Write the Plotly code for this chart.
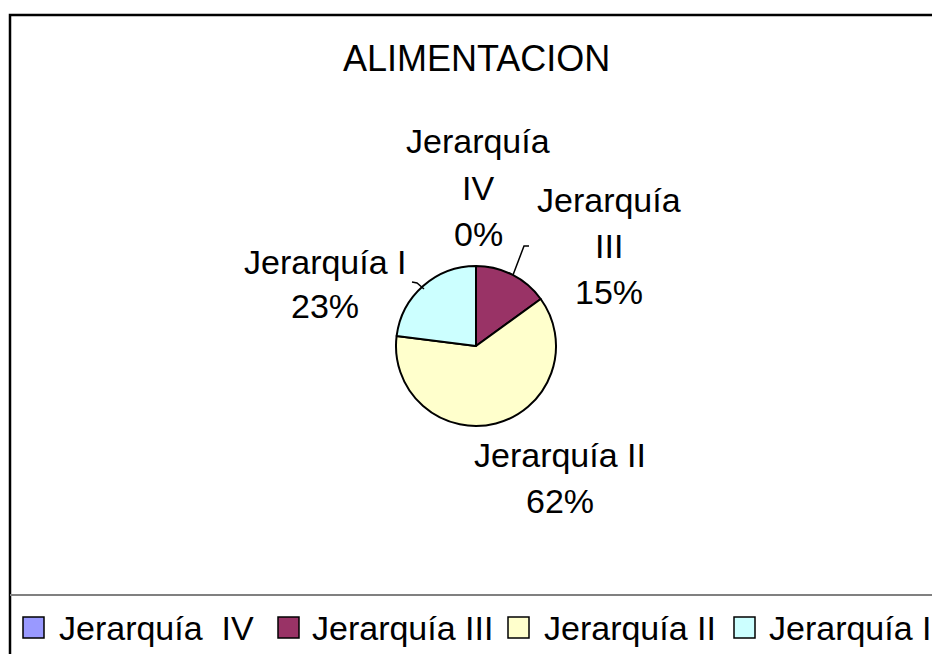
import plotly.graph_objects as go

# ---- data ----
labels = ["Jerarquía IV", "Jerarquía III", "Jerarquía II", "Jerarquía I"]
legend_labels = ["Jerarquía\u00a0 IV", "Jerarquía III", "Jerarquía II", "Jerarquía I"]
values = [0, 15, 62, 23]
pct_text = ["0%", "15%", "62%", "23%"]
colors = ["#9999FF", "#993366", "#FFFFCC", "#CCFFFF"]
title_text = "ALIMENTACION"

W, H = 932, 654
FONT = "Liberation Sans, Arial, sans-serif"


def px(x):
    return x / W


def py(y):
    return 1 - y / H


# pie geometry (pixels)
cx, cy, r = 476, 346, 80

fig = go.Figure(
    go.Pie(
        labels=labels,
        values=values,
        sort=False,
        direction="clockwise",
        rotation=0,
        textinfo="none",
        hoverinfo="label+percent",
        showlegend=False,
        marker=dict(colors=colors, line=dict(color="black", width=2)),
        domain=dict(x=[px(cx - r), px(cx + r)], y=[py(cy + r), py(cy - r)]),
    )
)

annotations = []
shapes = []

# title
annotations.append(dict(text=title_text, x=px(476.5), y=py(59), xref="paper", yref="paper",
                        xanchor="center", yanchor="middle", showarrow=False,
                        font=dict(family=FONT, size=36, color="black")))

# data labels: label words split into lines, each line placed by its baseline
label_layout = {
    0: (478, [153, 200, 246]),
    1: (609, [212, 258, 304]),
    2: (560, [467, 513]),
    3: (325, [274, 318]),
}
for i, (xc, baselines) in label_layout.items():
    name = labels[i]
    word, roman = name.split(" ")
    if len(baselines) == 3:
        lines = [word, roman, pct_text[i]]
    else:
        lines = [name, pct_text[i]]
    for line, b in zip(lines, baselines):
        annotations.append(dict(text=line, x=px(xc), y=py(b - 12), xref="paper", yref="paper",
                                xanchor="center", yanchor="middle", showarrow=False,
                                font=dict(family=FONT, size=34, color="black")))

# leader lines
shapes.append(dict(type="path", xref="paper", yref="paper",
                   path=f"M {px(513)} {py(275)} L {px(524)} {py(246)} L {px(529)} {py(246)}",
                   line=dict(color="black", width=1.5)))
shapes.append(dict(type="path", xref="paper", yref="paper",
                   path=f"M {px(412)} {py(282)} L {px(417)} {py(283)} L {px(424)} {py(289)}",
                   line=dict(color="black", width=1.5)))

# chart frame
shapes.append(dict(type="rect", xref="paper", yref="paper",
                   x0=px(10), y0=py(15), x1=1.1, y1=-0.1,
                   line=dict(color="black", width=2.5), fillcolor="rgba(0,0,0,0)"))
# legend box top border
shapes.append(dict(type="line", xref="paper", yref="paper",
                   x0=px(10), y0=py(595), x1=1.1, y1=py(595),
                   line=dict(color="#808080", width=2)))

# legend entries
legend_sq_left = [23, 278, 508, 734]
legend_txt_left = [57, 310, 542, 767]
for i in range(len(labels)):
    x0 = legend_sq_left[i]
    shapes.append(dict(type="rect", xref="paper", yref="paper",
                       x0=px(x0), x1=px(x0 + 21), y0=py(617), y1=py(638),
                       line=dict(color="black", width=1.5), fillcolor=colors[i]))
    annotations.append(dict(text=legend_labels[i], x=px(legend_txt_left[i]), y=py(628),
                            xref="paper", yref="paper", xanchor="left", yanchor="middle",
                            showarrow=False, font=dict(family=FONT, size=34, color="black")))

fig.update_layout(
    width=W, height=H,
    margin=dict(l=0, r=0, t=0, b=0),
    paper_bgcolor="white",
    plot_bgcolor="white",
    annotations=annotations,
    shapes=shapes,
)

fig.write_html(
    "out.html",
    config={"displayModeBar": False},
    post_script="document.body.style.margin='0';document.body.style.overflow='hidden';",
)
